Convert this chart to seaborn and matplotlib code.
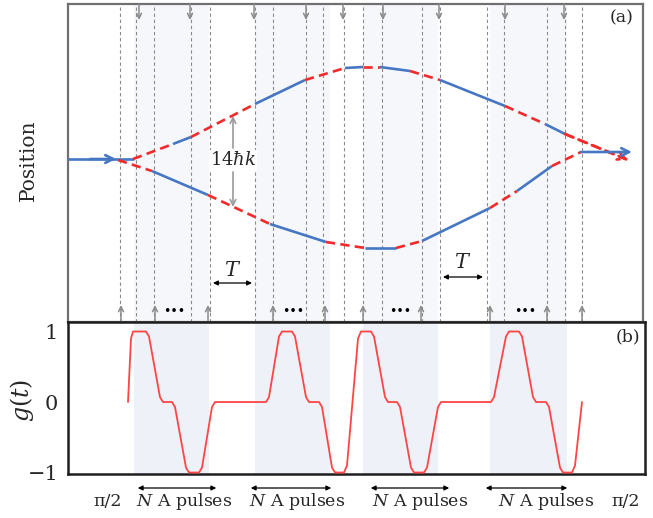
import matplotlib
matplotlib.use("Agg")
import matplotlib.pyplot as plt
from matplotlib.patches import FancyArrowPatch
import pandas as pd
import seaborn as sns

W, H = 653, 518

# ---------------- data (pixel-like units) ----------------
dashed_x = [120, 136, 154, 191, 210, 255, 273, 306, 323, 344, 363, 382, 422, 440, 487, 504, 547, 565, 582]
down_arrow_x = [139, 190, 254, 306, 343, 383, 439, 505, 564]
up_arrow_x = [121, 155, 208, 273, 325, 363, 421, 490, 547, 582]
dots_x = [174, 293, 400, 525]
shade_regions = [(134, 209), (255, 330), (363, 438), (490, 567)]

upper_x = [133, 173, 191, 255, 305, 345, 363, 380, 410, 440, 505, 545, 565, 628]
upper_y = [159, 144, 137, 104, 80, 68, 67, 67, 71, 80, 106, 124, 134, 160]
upper_kind = list("rbrbrbrbrbrbr")

lower_x = [118, 152, 208, 270, 326, 365, 396, 422, 490, 517, 552, 581]
lower_y = [160, 171, 195, 224, 242, 248, 248, 241, 208, 191, 166, 152]
lower_kind = list("rbrbrbrbrbr")

g_t = [128, 131, 133, 146, 149, 160, 163, 172, 175, 186, 189, 199, 202, 212, 215,
       266, 269, 279, 282, 292, 295, 306, 309, 319, 322, 332, 335, 344, 347,
       358, 361, 371, 374, 385, 388, 397, 400, 411, 414, 424, 427, 438, 441,
       491, 494, 506, 509, 519, 522, 533, 536, 546, 549, 560, 563, 572, 575, 582]
g_val = [0, 0.9, 1, 1, 0.93, 0.07, 0, 0, -0.07, -0.93, -1, -1, -0.93, -0.07, 0,
         0, 0.07, 0.93, 1, 1, 0.93, 0.07, 0, 0, -0.07, -0.93, -1, -1, -0.9,
         0.9, 1, 1, 0.93, 0.07, 0, 0, -0.07, -0.93, -1, -1, -0.93, -0.07, 0,
         0, 0.07, 0.93, 1, 1, 0.93, 0.07, 0, 0, -0.07, -0.93, -1, -1, -0.9, 0]
g_ticks = [1, 0, -1]
g_ticklabels = ["1", "0", "\u22121"]

bottom_labels = ["\u03c0/2", "$N$ A pulses", "$N$ A pulses", "$N$ A pulses", "$N$ A pulses", "\u03c0/2"]
bottom_label_x = [108, 184, 297, 420, 546, 626]
pulse_spans = [(135, 219), (248, 334), (368, 452), (483, 570)]
T_spans = [(213, 252), (443, 483)]
T_label_y = [270, 263]
T_arrow_y = [283, 277]

# ---------------- style ----------------
sns.set_theme(style="white")
plt.rcParams["font.family"] = ["DejaVu Serif", "Liberation Serif"]
plt.rcParams["mathtext.fontset"] = "dejavuserif"

BLUE = "#4677c2"
RED = "#f22a2a"
GRAY = "#8a8a8a"

fig = plt.figure(figsize=(W / 100, H / 100), dpi=100)


def P(x, y):
    return (x / W, 1 - y / H)


# panel (a)
axA = fig.add_axes([68 / W, 1 - 322 / H, (643 - 68) / W, (322 - 4) / H])
axA.set_xlim(68, 643)
axA.set_ylim(322, 4)
axA.set_xticks([])
axA.set_yticks([])
for s in axA.spines.values():
    s.set_color("#707070")
    s.set_linewidth(1.6)

for a, b in shade_regions:
    axA.axvspan(a, b, color="#f6f7fb", lw=0, zorder=0)
for x in dashed_x:
    ln = axA.axvline(x, color=GRAY, lw=0.8, zorder=1)
    ln.set_linestyle((0, (3, 2.5)))

for x in down_arrow_x:
    axA.annotate("", xy=(x, 20), xytext=(x, 4),
                 arrowprops=dict(arrowstyle="->", color=GRAY, lw=1.1,
                                 mutation_scale=9, shrinkA=0, shrinkB=0))
for x in up_arrow_x:
    axA.annotate("", xy=(x, 305), xytext=(x, 322),
                 arrowprops=dict(arrowstyle="->", color=GRAY, lw=1.1,
                                 mutation_scale=9, shrinkA=0, shrinkB=0))
for x in dots_x:
    axA.text(x, 312, "\u2022\u2022\u2022", ha="center", va="center",
             fontsize=9, color="black", family="DejaVu Sans")


def draw_arm(xs, ys, kinds):
    for i, k in enumerate(kinds):
        seg_x = xs[i:i + 2]
        seg_y = ys[i:i + 2]
        if k == "r":
            ln, = axA.plot(seg_x, seg_y, color=RED, lw=1.9, zorder=3,
                           solid_capstyle="butt", dash_capstyle="butt")
            ln.set_dashes((3.5, 2.0))
        else:
            axA.plot(seg_x, seg_y, color=BLUE, lw=1.9, zorder=3,
                     solid_capstyle="butt")


# input beam
axA.plot([68, upper_x[0]], [upper_y[0], upper_y[0]], color=BLUE, lw=1.9, zorder=3)
axA.annotate("", xy=(116, upper_y[0]), xytext=(90, upper_y[0]),
             arrowprops=dict(arrowstyle="->", color=BLUE, lw=1.9,
                             mutation_scale=14, shrinkA=0, shrinkB=0), zorder=4)
draw_arm(upper_x, upper_y, upper_kind)
draw_arm(lower_x, lower_y, lower_kind)
# output beams
axA.annotate("", xy=(upper_x[-1], upper_y[-1]), xytext=(upper_x[-2], upper_y[-2]),
             arrowprops=dict(arrowstyle="->", color=RED, lw=1.9,
                             mutation_scale=14, shrinkA=0, shrinkB=0,
                             linestyle=(0, (3.5, 2.0))), zorder=4)
axA.annotate("", xy=(632, lower_y[-1]), xytext=(lower_x[-1], lower_y[-1]),
             arrowprops=dict(arrowstyle="->", color=BLUE, lw=1.9,
                             mutation_scale=14, shrinkA=0, shrinkB=0), zorder=4)

# 14 hbar k annotation
axA.text(233, 160, r"14$\hbar k$", ha="center", va="center", fontsize=13,
         bbox=dict(facecolor="white", edgecolor="none", pad=0.5), zorder=5)
axA.annotate("", xy=(233, 116), xytext=(233, 148),
             arrowprops=dict(arrowstyle="->", color="#9a9a9a", lw=1.2,
                             mutation_scale=10, shrinkA=0, shrinkB=0), zorder=5)
axA.annotate("", xy=(233, 207), xytext=(233, 172),
             arrowprops=dict(arrowstyle="->", color="#9a9a9a", lw=1.2,
                             mutation_scale=10, shrinkA=0, shrinkB=0), zorder=5)

# T annotations
for (a, b), ty, ay in zip(T_spans, T_label_y, T_arrow_y):
    axA.text((a + b) / 2, ty, r"$T$", ha="center", va="center", fontsize=15)
    axA.annotate("", xy=(b, ay), xytext=(a, ay),
                 arrowprops=dict(arrowstyle="<|-|>", color="black", lw=0.9,
                                 mutation_scale=7, shrinkA=0, shrinkB=0))

axA.text(622, 18, "(a)", ha="center", va="center", fontsize=12.5)

# panel (b)
axB = fig.add_axes([68 / W, 1 - 474 / H, (645 - 68) / W, (474 - 322) / H])
axB.set_xlim(68, 645)
axB.set_ylim(-1.021, 1.135)
for a, b in shade_regions:
    axB.axvspan(a, b, color="#eef1f8", lw=0, zorder=0)

df = pd.DataFrame({"t": g_t, "g": g_val})
sns.lineplot(data=df, x="t", y="g", ax=axB, color="#ff4545", lw=1.3,
             sort=False, estimator=None, zorder=3)
axB.set_xlabel("")
axB.set_ylabel("")
axB.set_xticks([])
axB.set_yticks(g_ticks)
axB.set_yticklabels(g_ticklabels, fontsize=15)
axB.tick_params(axis="y", length=0, pad=7)
for s in axB.spines.values():
    s.set_color("#1e1e1e")
    s.set_linewidth(1.8)
axB.text(628, 0.92, "(b)", ha="center", va="center", fontsize=12.5)

# labels outside the axes
fig.text(*P(28, 160), "Position", rotation=90, ha="center", va="center", fontsize=14.5)
fig.text(*P(22, 400), r"$g(t)$", rotation=90, ha="center", va="center", fontsize=17)

for lab, x in zip(bottom_labels, bottom_label_x):
    fig.text(*P(x, 501), lab, ha="center", va="center", fontsize=12.5)
for a, b in pulse_spans:
    fig.add_artist(FancyArrowPatch(
        P(a, 488), P(b, 488), transform=fig.transFigure, arrowstyle="<|-|>",
        mutation_scale=7, color="black", lw=0.9))

fig.savefig("out.png", dpi=100)
